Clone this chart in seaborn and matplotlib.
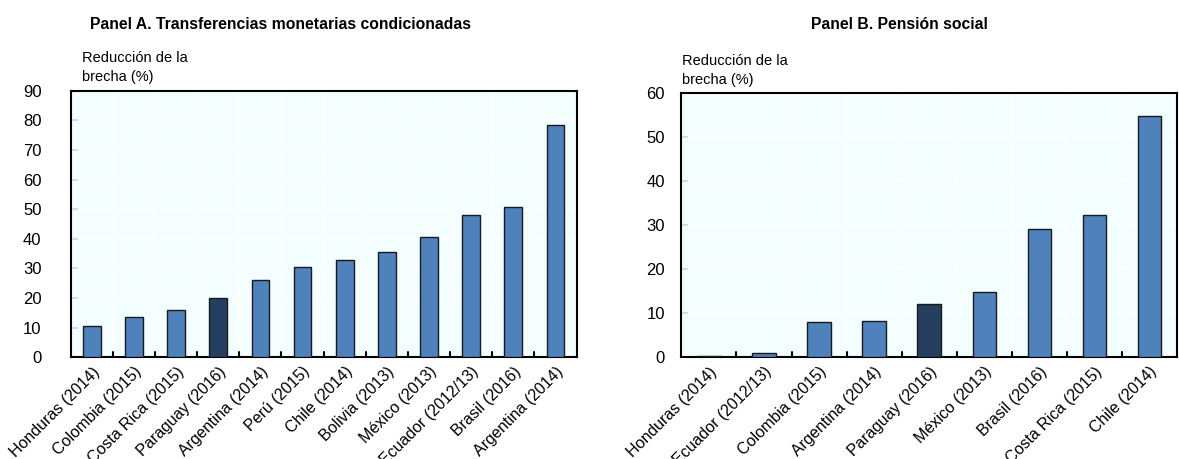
import matplotlib
matplotlib.use("Agg")
import matplotlib.pyplot as plt
import matplotlib.transforms as mtransforms
import seaborn as sns
import pandas as pd
import numpy as np

cats_a = ["Honduras (2014)", "Colombia (2015)", "Costa Rica (2015)", "Paraguay (2016)",
          "Argentina (2014)", "Perú (2015)", "Chile (2014)", "Bolivia (2013)",
          "México (2013)", "Ecuador (2012/13)", "Brasil (2016)", "Argentina (2014) "]
vals_a = [10.6, 13.5, 15.9, 20.0, 26.1, 30.3, 32.7, 35.5, 40.7, 47.9, 50.6, 78.6]

cats_b = ["Honduras (2014)", "Ecuador (2012/13)", "Colombia (2015)", "Argentina (2014)",
          "Paraguay (2016)", "México (2013)", "Brasil (2016)", "Costa Rica (2015)", "Chile (2014)"]
vals_b = [0.2, 0.9, 7.9, 8.3, 12.1, 14.8, 29.2, 32.3, 54.8]

highlight = "Paraguay (2016)"
titles = ["Panel A. Transferencias monetarias condicionadas", "Panel B. Pensión social"]
ylabel = "Reducción de la\nbrecha (%)"

sns.set_theme(style="white")
plt.rcParams['font.family'] = ['Liberation Sans', 'DejaVu Sans']
plt.rcParams['text.color'] = 'black'
plt.rcParams['xtick.color'] = 'black'
plt.rcParams['ytick.color'] = 'black'

BLUE = "#4F81BD"
DARK = "#243F60"
BG = "#F2FEFF"

fig = plt.figure(figsize=(11.79, 4.59), dpi=100)
ax_a = fig.add_axes([0.060, 0.222, 0.429, 0.580])
ax_b = fig.add_axes([0.578, 0.222, 0.420, 0.575])

def draw(ax, cats, vals, ymax, step, title, tx, ypad, lx):
    df = pd.DataFrame({"cat": cats, "val": vals,
                       "grp": ["h" if c == highlight else "n" for c in cats]})
    ax.set_facecolor(BG)
    sns.barplot(data=df, x="cat", y="val", hue="grp", palette={"h": DARK, "n": BLUE},
                dodge=False, legend=False, width=0.42, edgecolor="#1a1a1a",
                linewidth=1.0, saturation=1, ax=ax, zorder=3)
    n = len(cats)
    ax.set_xlim(-0.5, n - 0.5)
    ax.set_ylim(0, ymax)
    ax.set_yticks(np.arange(0, ymax + 1, step))
    ax.set_xticks(np.arange(n))
    ax.set_xticklabels([c.strip() for c in cats], rotation=45, ha="right",
                       rotation_mode="anchor", fontsize=11.5)
    off = mtransforms.ScaledTranslation(-5 / 72, 0, fig.dpi_scale_trans)
    for lab in ax.get_xticklabels():
        lab.set_transform(lab.get_transform() + off)
    ax.tick_params(axis="x", length=0, pad=5)
    ax.tick_params(axis="y", direction="in", length=5, width=1.2, labelsize=12, pad=ypad,
                   left=True, color="black")
    for yv in np.arange(step, ymax, step):
        ax.axhline(yv, color="white", lw=1.2, zorder=1)
    for xv in np.arange(0.5, n - 0.5, 1):
        ax.axvline(xv, color="white", lw=1.2, zorder=1)
        ax.plot([xv, xv], [0, ymax * 0.018], color="black", lw=1.5, zorder=4, clip_on=False)
    for s in ax.spines.values():
        s.set_color("black")
        s.set_linewidth(1.5)
        s.set_visible(True)
    ax.set_xlabel("")
    ax.set_ylabel("")
    ax.text(lx, 1.025, ylabel, transform=ax.transAxes, ha="left", va="bottom",
            fontsize=10.5, linespacing=1.45)
    fig.text(tx, 0.946, title, ha="center", va="center", fontsize=11.3, fontweight="bold")

draw(ax_a, cats_a, vals_a, 90, 10, titles[0], 0.238, 21, 0.022)
draw(ax_b, cats_b, vals_b, 60, 10, titles[1], 0.763, 12, 0.002)

fig.savefig("out.png", dpi=100, facecolor="white")
